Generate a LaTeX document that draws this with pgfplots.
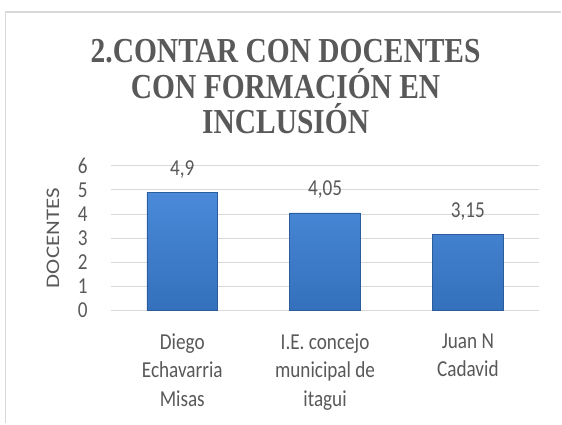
\documentclass[border=0pt]{standalone}
\usepackage{fontspec}
\setmainfont{Carlito}
\newfontfamily\ttlserif{LiberationSerif}[Extension=.ttf, UprightFont=*-Regular, BoldFont=*-Bold]
\usepackage{graphicx}
\usepackage{pgfplots}
\pgfplotsset{compat=1.18}
\definecolor{txt}{HTML}{595959}
\definecolor{gridc}{HTML}{D9D9D9}
\definecolor{frame}{HTML}{D9D9D9}
\definecolor{bartop}{HTML}{4A8AD8}
\definecolor{barbot}{HTML}{3470BC}
\definecolor{baredge}{HTML}{2B5C9C}
\begin{document}
\begin{tikzpicture}
\path[fill=white] (0pt,0pt) rectangle (562pt,424pt);
\draw[frame, line width=1.5pt] (5.5pt,0pt) -- (5.5pt,412pt) -- (562pt,412pt);
\node[anchor=north, align=center, inner sep=0pt, text=txt, yscale=1.19,
      font=\ttlserif\bfseries\fontsize{29.5}{30}\selectfont]
  at (286pt,385pt) {2.CONTAR CON DOCENTES\\CON FORMACIÓN EN\\INCLUSIÓN};
\begin{axis}[
    at={(111pt,113pt)}, anchor=south west,
    scale only axis,
    width=429pt, height=145pt,
    xmin=-0.5, xmax=2.5,
    ymin=0, ymax=6,
    ytick={0,1,2,3,4,5,6},
    xtick={0,1,2},
    xticklabels={Diego\\Echavarria\\Misas, I.E. concejo\\municipal de\\itagui, Juan N\\Cadavid},
    axis line style={draw=none},
    major tick length=0pt,
    ymajorgrids=true,
    grid style={gridc, line width=1pt},
    /pgf/number format/assume math mode=true,
    tick label style={font=\fontsize{19.2}{24.2}\selectfont, text=txt, yscale=1.19},
    xticklabel style={align=center, inner sep=0pt, yshift=-19pt},
    yticklabel style={inner sep=0pt, xshift=-23pt},
    ylabel={\scalebox{1.19}[1]{DOCENTES}},
    ylabel style={at={(axis description cs:-0.135,0.5)}, anchor=center,
                  font=\fontsize{19.2}{22}\selectfont, text=txt},
    nodes near coords,
    point meta=explicit symbolic,
    every node near coord/.append style={anchor=south, inner sep=0pt, yshift=14pt,
                  font=\fontsize{19.2}{22}\selectfont, text=txt, yscale=1.19},
]
\addplot[ybar, bar width=71pt, bar shift=0pt, draw=baredge, line width=0.6pt,
         top color=bartop, bottom color=barbot]
  coordinates {(0,4.9) [4,9] (1,4.05) [4,05] (2,3.15) [3,15]};
\end{axis}
\end{tikzpicture}
\end{document}
